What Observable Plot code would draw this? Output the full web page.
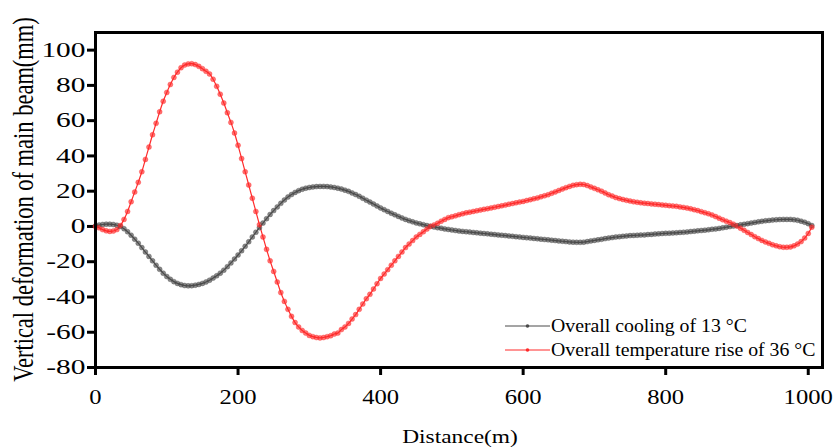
<!DOCTYPE html>
<html>
<head>
<meta charset="utf-8">
<script src="https://cdn.jsdelivr.net/npm/d3@7"></script>
<script src="https://cdn.jsdelivr.net/npm/@observablehq/plot@0.6"></script>
<style>
  html, body { margin: 0; padding: 0; background: #fff; }
  #chart svg { display: block; }
</style>
</head>
<body>
<div id="chart"></div>
<script>
// Distance along the main beam (m), sampled every 5 m from 0 to 1005
const distance = d3.range(0, 1006, 5);

// Vertical deformation (mm) for overall cooling of 13 °C
const cooling = [
  0.3, 0.8, 1.1, 1.3, 1.3, 1.1, 0.7, 0, -1.3, -3,
  -5, -7.2, -9.5, -12, -14.5, -17, -19.5, -22, -24.3, -26.5,
  -28.4, -30, -31.3, -32.3, -33, -33.5, -33.7, -33.6, -33.3, -32.9,
  -32.3, -31.5, -30.5, -29.3, -28, -26.5, -24.8, -22.8, -20.7, -18.5,
  -16.2, -13.8, -11.3, -8.7, -6, -3.3, -0.7, 1.9, 4.4, 6.8,
  9, 11.1, 13.1, 15, 16.7, 18.1, 19.3, 20.3, 21.1, 21.7,
  22.1, 22.4, 22.6, 22.7, 22.7, 22.6, 22.4, 22.1, 21.7, 21.2,
  20.6, 19.9, 19, 18.1, 17.1, 16, 14.9, 13.8, 12.7, 11.6,
  10.5, 9.5, 8.5, 7.5, 6.6, 5.7, 4.8, 4, 3.3, 2.6,
  2, 1.5, 1, 0.5, 0.1, -0.3, -0.7, -1, -1.4, -1.7,
  -2, -2.3, -2.6, -2.8, -3, -3.2, -3.4, -3.6, -3.8, -4,
  -4.2, -4.4, -4.6, -4.8, -5, -5.2, -5.4, -5.6, -5.8, -6,
  -6.2, -6.4, -6.6, -6.8, -7, -7.2, -7.4, -7.6, -7.8, -8,
  -8.2, -8.4, -8.6, -8.8, -8.9, -9, -9, -8.9, -8.6, -8.2,
  -7.9, -7.6, -7.3, -6.9, -6.6, -6.3, -6, -5.8, -5.6, -5.4,
  -5.2, -5.1, -5, -4.9, -4.8, -4.6, -4.5, -4.3, -4.2, -4,
  -3.9, -3.8, -3.7, -3.6, -3.4, -3.3, -3.1, -2.9, -2.7, -2.5,
  -2.3, -2.1, -1.9, -1.6, -1.4, -1.1, -0.8, -0.4, -0.1, 0.2,
  0.5, 0.9, 1.2, 1.6, 1.9, 2.3, 2.6, 2.9, 3.2, 3.4,
  3.6, 3.8, 3.9, 4, 4, 4, 3.8, 3.5, 3, 2.4,
  1.6, 0.5
];

// Vertical deformation (mm) for overall temperature rise of 36 °C
const heating = [
  0, -0.8, -1.8, -2.5, -2.8, -2.6, -1.8, 0.5, 4, 8.5,
  14, 19.5, 25, 31, 38, 45, 52, 58.5, 65, 71,
  76, 80.5, 84.5, 87.5, 90, 91.5, 92.2, 92.3, 91.8, 90.8,
  89.5, 88, 86.5, 83.5, 79.5, 75, 70, 64.5, 59, 53,
  46, 38.5, 31, 23.5, 16, 8.5, 1, -6, -13, -19.5,
  -25.5, -31.5, -37.5, -42.5, -47, -51, -54.5, -57, -59, -60.5,
  -61.8, -62.5, -63, -63.2, -63, -62.5, -62, -61, -60.5, -58.5,
  -57, -55, -52.5, -50, -47, -44, -41, -38.5, -35.5, -32.5,
  -29.5, -27, -24.5, -22, -19.5, -17, -14.5, -12, -10, -8,
  -6, -4.5, -3, -1.5, 0, 0.8, 1.8, 3, 4, 5,
  5.5, 6, 6.7, 7.2, 7.7, 8.1, 8.5, 8.9, 9.3, 9.7,
  10.1, 10.5, 10.9, 11.3, 11.7, 12.1, 12.6, 13, 13.4, 13.8,
  14.2, 14.7, 15.2, 15.7, 16.2, 16.8, 17.4, 18, 18.8, 19.6,
  20.4, 21.2, 22, 22.7, 23.3, 23.7, 23.9, 23.8, 23.2, 22.4,
  21.6, 20.8, 20, 19, 18, 17.2, 16.4, 15.8, 15.3, 14.8,
  14.4, 14, 13.7, 13.4, 13.2, 13, 12.8, 12.6, 12.4, 12.2,
  12, 11.8, 11.6, 11.4, 11.1, 10.8, 10.4, 10, 9.5, 9,
  8.4, 7.8, 7.2, 6.5, 5.6, 4.7, 3.8, 3, 2.2, 1.3,
  0.2, -1, -2.2, -3.4, -4.6, -5.8, -6.9, -7.9, -8.8, -9.6,
  -10.4, -11, -11.5, -11.8, -11.8, -11.6, -11, -10, -8.6, -6.6,
  -4, -0.4
];

const seriesNames = ["Overall cooling of 13 °C", "Overall temperature rise of 36 °C"];
const seriesColors = ["#4a4a4a", "#ff2a2a"];
const xTicks = [0, 200, 400, 600, 800, 1000];
const yTicks = [-80, -60, -40, -20, 0, 20, 40, 60, 80, 100];
const xTitle = "Distance(m)";
const yTitle = "Vertical deformation of main beam(mm)";

const rows = [];
distance.forEach((d, i) => {
  rows.push({distance: d, value: cooling[i], series: seriesNames[0]});
  rows.push({distance: d, value: heating[i], series: seriesNames[1]});
});

const font = "'Liberation Serif', 'Times New Roman', serif";

const chart = Plot.plot({
  width: 834,
  height: 447,
  marginLeft: 95,
  marginRight: 12,
  marginTop: 32,
  marginBottom: 80,
  style: {"font-family": font, "font-size": "22px", "color": "#000", "background": "#fff"},
  x: {domain: [0, 1020], ticks: xTicks, tickFormat: d => String(d), tickSize: 8, tickPadding: 13, label: null},
  y: {domain: [-80, 110], ticks: yTicks, tickFormat: d => String(d), tickSize: 8, tickPadding: 2, label: null},
  color: {domain: seriesNames, range: seriesColors},
  marks: [
    Plot.line(rows, {x: "distance", y: "value", z: "series", stroke: "series", strokeWidth: 1.2, curve: "catmull-rom"}),
    Plot.dot(rows, {x: "distance", y: "value", fill: "series", r: 2.5, fillOpacity: 0.65, stroke: "series", strokeOpacity: 0.35, strokeWidth: 1}),
    Plot.frame({stroke: "#000", strokeWidth: 3})
  ]
});

document.getElementById("chart").appendChild(chart);
const svg = d3.select(chart);

// widen a text horizontally about its own anchor point
function widen(sel, sx) {
  sel.each(function () {
    const t = d3.select(this);
    const ax = parseFloat(t.attr("x")) || 0;
    const ay = parseFloat(t.attr("y")) || 0;
    const base = t.attr("transform") || "";
    t.attr("transform", `${base} translate(${ax},${ay}) scale(${sx},1) translate(${-ax},${-ay})`);
  });
}

// thicker, black axis ticks; wide serif tick labels
svg.selectAll("[aria-label='x-axis tick'] path, [aria-label='y-axis tick'] path")
  .attr("stroke", "#000").attr("stroke-width", 3);
svg.selectAll("[aria-label='y-axis tick label'] text").style("font-size", "21px");
widen(svg.selectAll("[aria-label='y-axis tick label'] text"), 1.4);
widen(svg.selectAll("[aria-label='x-axis tick label'] text"), 1.12);

// axis titles
const xt = svg.append("text")
  .attr("font-family", font).attr("font-size", 18).attr("text-anchor", "middle").attr("fill", "#000")
  .attr("x", 0).attr("y", 0)
  .attr("transform", "translate(460,443) scale(1.3,1)")
  .text(xTitle);
svg.append("text")
  .attr("font-family", font).attr("font-size", 22.5).attr("text-anchor", "middle").attr("fill", "#000")
  .attr("transform", "translate(33,199.5) rotate(-90) scale(1,1.3)")
  .text(yTitle);

// legend inside the lower-right corner of the frame
const legend = svg.append("g")
  .attr("font-family", font).attr("font-size", 18).attr("text-anchor", "start");
seriesNames.forEach((name, i) => {
  const y = 326 + i * 24;
  legend.append("line").attr("x1", 505).attr("x2", 550).attr("y1", y).attr("y2", y)
    .attr("stroke", seriesColors[i]).attr("stroke-width", 1);
  legend.append("circle").attr("cx", 527.5).attr("cy", y).attr("r", 1.8).attr("fill", seriesColors[i]);
  legend.append("text").attr("transform", `translate(551,${y}) scale(1.1,1)`)
    .attr("dy", "0.35em").attr("fill", "#000").text(name);
});
</script>
</body>
</html>
